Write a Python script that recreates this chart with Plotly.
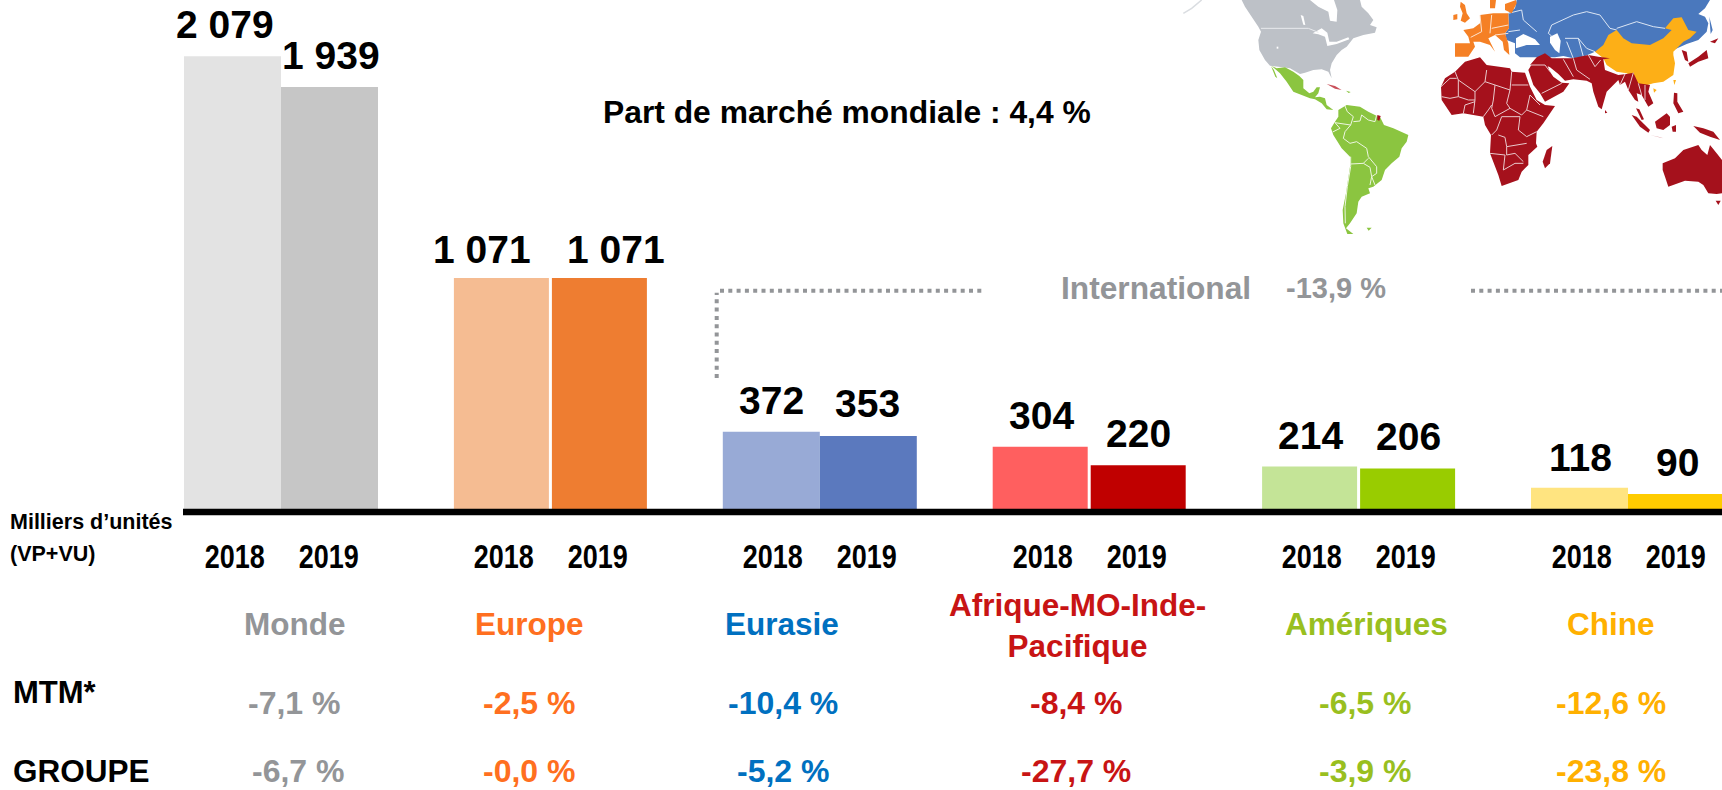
import plotly.graph_objects as go

# ---------- data ----------
regions = ["Monde", "Europe", "Eurasie", "Afrique-MO-Inde-<br>Pacifique", "Amériques", "Chine"]
years = ["2018", "2019"]
values_2018 = [2079, 1071, 372, 304, 214, 118]
values_2019 = [1939, 1071, 353, 220, 206, 90]
mtm = ["-7,1 %", "-2,5 %", "-10,4 %", "-8,4 %", "-6,5 %", "-12,6 %"]
groupe = ["-6,7 %", "-0,0 %", "-5,2 %", "-27,7 %", "-3,9 %", "-23,8 %"]
colors_2018 = ["#E3E3E3", "#F5BC92", "#98AAD6", "#FF5F5F", "#C4E497", "#FFE480"]
colors_2019 = ["#C6C6C6", "#EE7D31", "#5B79BE", "#C00000", "#99CC00", "#FFCC00"]
text_colors = ["#939598", "#FF6F20", "#0070C0", "#C81414", "#99BF1F", "#FFB000"]

W, H = 1722, 790
FONT = "Liberation Sans, Arial, sans-serif"
STEP = 269.4
X0 = 281.0
BASE_PX = 513.7
PX_PER_UNIT = 0.22


def fmt(v):
    return f"{v:,}".replace(",", " ")


def bw(px):
    return px / STEP


# bars with a thin white gap between the two years for some groups
gap_px = [0, 3, 0, 3, 3, 0]
bar_w = [97, 95, 97, 95, 95, 97]
idx = list(range(len(regions)))

fig = go.Figure()
fig.add_bar(
    x=idx, y=values_2018, name=years[0],
    width=[bw(w) for w in bar_w],
    offset=[-bw(w) - bw(g) / 2 for w, g in zip(bar_w, gap_px)],
    marker=dict(color=colors_2018, line=dict(width=0)),
)
fig.add_bar(
    x=idx, y=values_2019, name=years[1],
    width=[bw(w) for w in bar_w],
    offset=[bw(g) / 2 for g in gap_px],
    marker=dict(color=colors_2019, line=dict(width=0)),
)

annotations = []


def text(px, py, s, size, color="#000000", anchor="center", family=FONT):
    annotations.append(dict(
        x=px / W, y=1 - py / H, xref="paper", yref="paper", text=f"<b>{s}</b>",
        showarrow=False, xanchor=anchor, yanchor="middle",
        font=dict(size=size, color=color, family=family),
        align="center", borderpad=0,
    ))


# value labels
label_x_2018 = [225, 482, 771, 1041, 1310, 1580]
label_y_2018 = [25, 249, 400, 415, 435, 457]
label_x_2019 = [331, 616, 868, 1138, 1408, 1677]
label_y_2019 = [55, 249, 404, 433, 437, 462]
for i in idx:
    text(label_x_2018[i], label_y_2018[i], fmt(values_2018[i]), 39)
    text(label_x_2019[i], label_y_2019[i], fmt(values_2019[i]), 39)
    text(234 + STEP * i, 556, years[0], 33)
    text(328 + STEP * i, 556, years[1], 33)

region_x = [294, 529, 782, 1077, 1366, 1611]
region_y = [624, 624, 624, 625, 624, 624]
for i in idx:
    text(region_x[i], region_y[i], regions[i], 31.5, text_colors[i])
mtm_x = [294, 529, 783, 1076, 1365, 1611]
grp_x = [298, 529, 783, 1076, 1365, 1611]
for i in idx:
    text(mtm_x[i], 703, mtm[i], 32, text_colors[i])
    text(grp_x[i], 771, groupe[i], 32, text_colors[i])

text(12, 692, "MTM*", 31, anchor="left")
text(12, 771, "GROUPE", 31.5, anchor="left")
text(9, 522, "Milliers d’unités", 21.5, anchor="left")
text(9, 554, "(VP+VU)", 21.5, anchor="left")
text(847, 112, "Part de marché mondiale : 4,4 %", 31.8)
text(1156, 288, "International", 31.7, "#939598")
text(1336, 288, "-13,9 %", 29, "#939598")


def Z(ox, oy, pts):
    return [(ox + a / 3, oy + b / 3) for a, b in pts]


def path(pts, close=True):
    s = "M " + " L ".join(f"{x / W:.5f},{1 - y / H:.5f}" for x, y in pts)
    return s + (" Z" if close else "")


shapes = []


def poly(pts, color):
    shapes.append(dict(type="path", path=path(pts), xref="paper", yref="paper",
                       fillcolor=color, line=dict(width=0), layer="below"))


def lines(pts, color="#FFFFFF", width=1.0):
    shapes.append(dict(type="path", path=path(pts, False), xref="paper", yref="paper",
                       fillcolor="rgba(0,0,0,0)", line=dict(width=width, color=color), layer="below"))


GREY, GREEN, ORANGE, BLUE, YEL, RED = "#BDC1C7", "#8BC540", "#F58025", "#4A78BD", "#FDAF17", "#A5111C"

# North America
z4 = lambda p: Z(1190, 0, p)
poly(z4([(155, 0), (165, 20), (185, 50), (205, 80), (213, 95), (205, 120), (208, 150), (225, 180), (240, 197),
         (265, 200), (300, 205), (330, 222), (345, 218), (370, 210), (395, 208), (415, 215), (425, 235), (420, 210),
         (425, 190), (440, 165), (455, 150), (470, 140), (490, 115), (520, 105), (555, 98), (560, 82), (540, 75),
         (550, 60), (535, 40), (515, 20), (510, 0), (432, 0), (442, 30), (440, 65), (420, 62), (415, 35), (385, 20),
         (360, 0)]), GREY)
poly(z4([(332, 45), (340, 48), (346, 75), (340, 74)]), "#FFFFFF")
poly(z4([(368, 100), (395, 85), (412, 98), (418, 125), (440, 125), (475, 112), (478, 118), (440, 132), (412, 138),
         (405, 110), (385, 103)]), "#FFFFFF")
poly(z4([(260, 140), (265, 140), (265, 146), (260, 146)]), "#FFFFFF")
lines(z4([(213, 85), (355, 85), (385, 97)]), "#E8EAED", 1)
lines(Z(1150, 0, [(100, 40), (125, 25), (155, 0)]), "#DADDE1", 1.5)

# Latin America
z5 = lambda p: Z(1260, 60, p)
poly(z5([(35, 18), (50, 25), (75, 22), (100, 35), (118, 48), (130, 60), (130, 85), (148, 100), (160, 95), (170, 82),
         (180, 82), (175, 100), (165, 112), (180, 110), (195, 115), (200, 135), (220, 150), (200, 148), (185, 130),
         (165, 118), (150, 115), (125, 105), (100, 95), (80, 65), (60, 40)]), GREEN)
poly(z5([(33, 18), (42, 30), (52, 55), (46, 50)]), GREEN)
poly(z5([(235, 150), (260, 135), (300, 140), (325, 155), (345, 165), (362, 175), (372, 195), (400, 205), (445, 225),
         (440, 245), (425, 265), (418, 290), (395, 310), (375, 330), (365, 360), (340, 380), (325, 385), (330, 400),
         (305, 410), (295, 425), (290, 460), (270, 490), (258, 505), (280, 522), (262, 522), (250, 490), (248, 450),
         (258, 400), (270, 320), (270, 290), (245, 265), (220, 225), (213, 205), (225, 185), (235, 170)]), GREEN)
poly(z5([(320, 503), (335, 503), (326, 512)]), GREEN)
poly(z5([(258, 92), (272, 96), (266, 99)]), GREEN)
poly(z5([(352, 165), (362, 168), (358, 182), (352, 180)]), RED)
poly(z5([(200, 72), (225, 78), (245, 90), (225, 86)]), "#C9505A")
for ln in [
    [(255, 138), (262, 155), (280, 170), (272, 195), (255, 215), (250, 235), (270, 250), (290, 245), (320, 265),
     (325, 290), (350, 320), (350, 340), (335, 350), (345, 375)],
    [(272, 195), (225, 188), (240, 205), (218, 216)],
    [(280, 185), (300, 183), (305, 165), (325, 180), (345, 185), (350, 165)],
    [(272, 290), (272, 320), (262, 380), (255, 440), (256, 490)],
    [(272, 312), (310, 310), (325, 295)],
    [(310, 310), (330, 322), (335, 350), (330, 375)],
]:
    lines(z5(ln), "#EDF6E0", 1)

# Eurasia
z6 = lambda p: Z(1440, 0, p)
poly(z6([(230, 0), (810, 0), (795, 25), (775, 42), (795, 50), (805, 70), (800, 95), (775, 120), (760, 125), (740, 132),
         (700, 150), (600, 200), (465, 155), (430, 170), (400, 175), (370, 168), (345, 172), (310, 172), (240, 172),
         (225, 160), (225, 130), (200, 120), (195, 100), (207, 85), (205, 40), (225, 25)]), BLUE)
poly(z6([(808, 50), (818, 90), (812, 102)]), BLUE)
poly(z6([(228, 115), (250, 102), (285, 118), (300, 135), (260, 135), (228, 145)]), "#FFFFFF")
poly(z6([(330, 110), (352, 100), (362, 122), (358, 160), (345, 150), (330, 128)]), "#FFFFFF")
for ln in [
    [(335, 75), (400, 45), (440, 35), (480, 45), (510, 85), (530, 90)],
    [(530, 85), (590, 65), (640, 80), (675, 85)],
    [(335, 75), (325, 100), (335, 108)],
    [(375, 115), (415, 115), (440, 145), (465, 155)],
    [(205, 40), (245, 30), (250, 60), (290, 95)],
    [(205, 95), (240, 90)],
    [(400, 175), (380, 125)],
    [(415, 115), (430, 170)],
]:
    lines(z6(ln), "#DCE6F4", 1)

# Europe
for p in [
    [(62, 5), (75, 15), (80, 40), (90, 55), (75, 68), (62, 62), (68, 40), (60, 20)],
    [(40, 45), (52, 42), (52, 58), (40, 60)],
    [(150, 0), (168, 0), (165, 25), (150, 25)],
    [(195, 12), (228, 0), (230, 10), (215, 40), (195, 30)],
    [(120, 45), (160, 40), (205, 40), (207, 85), (195, 100), (205, 130), (208, 165), (192, 150), (188, 125),
     (165, 105), (145, 115), (165, 155), (150, 135), (120, 125), (100, 125), (105, 140), (85, 170), (45, 170),
     (45, 130), (90, 130), (85, 110), (70, 90), (100, 85), (120, 70)],
]:
    poly(z6(p), ORANGE)
for ln in [[(120, 45), (125, 95), (92, 112)], [(155, 45), (150, 100)], [(205, 75), (155, 85)], [(165, 105), (205, 100)]]:
    lines(z6(ln), "#FDE3CF", 1)

# China
poly(z6([(465, 155), (490, 135), (505, 105), (530, 90), (550, 115), (575, 130), (630, 135), (670, 115), (695, 90),
         (675, 85), (700, 55), (725, 52), (745, 90), (770, 95), (750, 115), (730, 125), (700, 155), (700, 165),
         (705, 190), (700, 225), (670, 245), (640, 250), (600, 262), (585, 235), (560, 220), (530, 215), (500, 195),
         (490, 175)]), YEL)
poly(z6([(700, 240), (708, 240), (703, 255)]), YEL)
poly(z6([(640, 265), (650, 270), (642, 278)]), YEL)

# Africa
z7 = lambda p: Z(1430, 50, p)
poly(z7([(105, 35), (150, 22), (170, 45), (240, 55), (245, 65), (285, 68), (300, 110), (320, 150), (345, 165),
         (375, 168), (340, 220), (320, 245), (318, 280), (322, 290), (295, 315), (295, 345), (275, 365), (265, 390),
         (215, 408), (205, 375), (180, 310), (183, 255), (165, 225), (160, 200), (100, 190), (65, 195), (35, 150),
         (33, 110), (45, 85), (75, 65)]), RED)
poly(z7([(367, 288), (360, 340), (345, 355), (338, 335), (350, 300)]), RED)
# Arabia
poly(z7([(295, 60), (310, 35), (345, 25), (358, 62), (370, 80), (395, 98), (418, 100), (400, 125), (345, 155),
         (330, 130), (310, 105)]), RED)
# Middle East, South and South-East Asia
z8 = lambda p: Z(1570, 50, p)
poly(z7([(300, 45), (320, 22), (345, 10), (365, 25), (425, 25), (475, 15), (505, 20), (540, 25)]) +
     z8([(100, 28), (105, 60), (145, 75), (170, 72), (190, 68), (205, 100), (240, 105), (235, 125), (250, 160),
         (235, 170), (215, 135), (200, 130), (205, 155), (195, 150), (175, 120), (165, 95), (150, 105), (145, 90),
         (110, 125), (95, 178), (85, 170), (70, 125), (65, 100)]) +
     z7([(470, 92), (430, 88), (405, 92), (385, 72), (360, 52), (345, 45)]), RED)
for p in [
    [(410, 0), (415, 25), (385, 35), (360, 50), (355, 40), (385, 20)],
    [(335, 0), (350, 5), (355, 35), (345, 30), (340, 15)],
    [(312, 128), (322, 130), (322, 155), (340, 185), (325, 190), (310, 160)],
    [(255, 215), (290, 190), (300, 200), (300, 225), (280, 240), (260, 235)],
    [(185, 195), (200, 200), (240, 240), (235, 248), (210, 230)],
    [(240, 255), (280, 265), (270, 262)],
    [(305, 230), (318, 225), (318, 245), (308, 245)],
    [(370, 228), (400, 235), (430, 245), (450, 270), (420, 260), (390, 248)],
    [(198, 175), (208, 178), (222, 208), (215, 210)],
    [(105, 180), (112, 188), (105, 190)],
    [(278, 340), (315, 325), (340, 300), (385, 285), (395, 300), (412, 315), (420, 285), (440, 310), (456, 330),
     (456, 430), (440, 432), (415, 430), (400, 405), (385, 395), (345, 392), (295, 410), (285, 380), (278, 360)],
    [(437, 452), (452, 452), (445, 465)],
]:
    poly(z8(p), RED)
poly(z6([(810, 125), (835, 115), (825, 130)]), RED)
for ln in [
    [(75, 65), (85, 90), (135, 125), (165, 95), (170, 60)],
    [(33, 110), (60, 85), (80, 85)],
    [(85, 90), (85, 140), (60, 145), (35, 140)],
    [(135, 125), (135, 150), (115, 150), (85, 140)],
    [(165, 95), (195, 105), (240, 120), (245, 65)],
    [(195, 105), (190, 150), (185, 175), (195, 200), (240, 175)],
    [(245, 105), (295, 105)],
    [(240, 120), (230, 160), (240, 175), (275, 195), (290, 180), (300, 135)],
    [(300, 135), (330, 165)],
    [(290, 180), (340, 200)],
    [(215, 200), (270, 200), (265, 240), (290, 260), (320, 245)],
    [(215, 200), (200, 240), (185, 255)],
    [(205, 255), (225, 262), (230, 290), (290, 280)],
    [(180, 310), (225, 315), (220, 360), (255, 340), (280, 340)],
    [(230, 290), (230, 315), (255, 310), (280, 335)],
    [(160, 200), (175, 180), (185, 165)],
    [(135, 150), (130, 190)],
    [(100, 190), (105, 165), (135, 155)],
    [(360, 65), (345, 45), (300, 45)],
    [(400, 28), (430, 80)],
    [(430, 25), (440, 60), (480, 88)],
    [(475, 15), (495, 50), (512, 30)],
    [(335, 130), (395, 100)],
]:
    lines(z7(ln), "#E9C9CC", 1)
for ln in [[(150, 105), (165, 72)], [(190, 68), (175, 120)], [(205, 100), (215, 135)], [(225, 105), (225, 150)]]:
    lines(z8(ln), "#E9C9CC", 1)

# dotted "International" bracket
DOT = dict(color="#939598", width=4, dash="4px,4.3px")
for x0, y0, x1, y1 in [(716.7, 378, 716.7, 292.7), (720, 290.7, 982, 290.7), (1471, 290.7, 1722, 290.7)]:
    shapes.append(dict(type="line", xref="paper", yref="paper", x0=x0 / W, x1=x1 / W,
                       y0=1 - y0 / H, y1=1 - y1 / H, line=DOT, layer="above"))

# black baseline, over the foot of the bars
shapes.append(dict(type="rect", xref="paper", yref="paper", x0=183 / W, x1=1, y0=1 - 515.3 / H, y1=1 - 508.7 / H,
                   fillcolor="#000000", line=dict(width=0), layer="above"))

fig.update_layout(
    width=W, height=H, margin=dict(l=0, r=0, t=0, b=0, pad=0, autoexpand=False),
    paper_bgcolor="#FFFFFF", plot_bgcolor="rgba(0,0,0,0)", showlegend=False, barmode="overlay",
    xaxis=dict(range=[-X0 / STEP, (W - X0) / STEP], visible=False, fixedrange=True),
    yaxis=dict(range=[-(H - BASE_PX) / PX_PER_UNIT, BASE_PX / PX_PER_UNIT], visible=False, fixedrange=True),
    annotations=annotations, shapes=shapes,
)

# the year labels are condensed in the reference: keep them as real text, squeezed to its width
POST = """
document.body.style.margin='0';
document.documentElement.style.overflow='hidden';
document.querySelectorAll('.annotation-text').forEach(function(t){
  var s=t.textContent;
  if(s==='2018'||s==='2019'){t.setAttribute('textLength','60');t.setAttribute('lengthAdjust','spacingAndGlyphs');}
});
"""
fig.write_html("out.html", config=dict(displayModeBar=False, responsive=False), post_script=POST)
